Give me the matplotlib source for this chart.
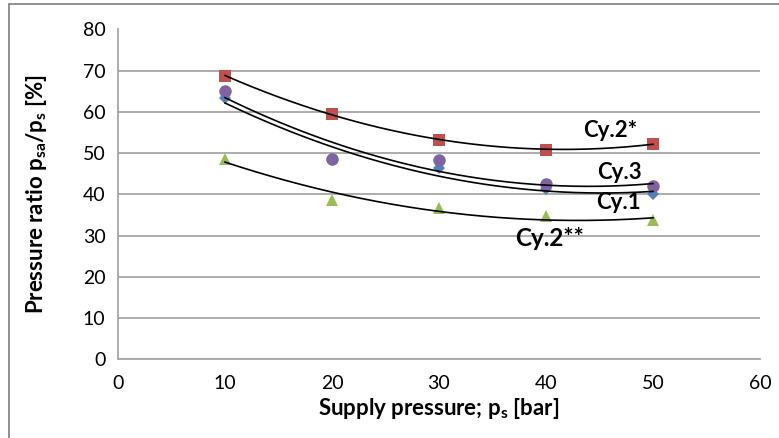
import numpy as np
import matplotlib
matplotlib.use("Agg")
import matplotlib.pyplot as plt
from matplotlib.patches import Rectangle

plt.rcParams['font.family'] = ['Lato', 'DejaVu Sans']
plt.rcParams['mathtext.fontset'] = 'custom'
plt.rcParams['mathtext.rm'] = 'Lato'
plt.rcParams['mathtext.bf'] = 'Lato:bold'

# supply pressure [bar]
pressure = [10, 20, 30, 40, 50]

# pressure ratio [%] per cylinder
cy1 = [63.4, 48.4, 46.5, 41.2, 40.2]
cy2_star = [68.7, 59.6, 53.3, 50.7, 52.3]
cy2_dstar = [48.7, 38.6, 36.6, 34.8, 33.7]
cy3 = [65.0, 48.7, 48.3, 42.6, 42.0]

series = [
    # name, values, color, marker, size
    ('Cy.1', cy1, '#4F81BD', 'D', 6),
    ('Cy.2*', cy2_star, '#C0504D', 's', 8),
    ('Cy.2**', cy2_dstar, '#9BBB59', '^', 9),
    ('Cy.3', cy3, '#8064A2', 'o', 9),
]

# label positions next to the trend lines (data coords, left / vertical centre)
labels = {
    'Cy.2*': (43.5, 55.4, 16),
    'Cy.3': (44.8, 45.2, 16),
    'Cy.1': (44.7, 38.0, 16),
    'Cy.2**': (37.1, 29.3, 17.5),
}

fig = plt.figure(figsize=(7.79, 4.38), dpi=100)
ax = fig.add_axes([118 / 779, 1 - 359.3 / 438, (760 - 118) / 779, (359.3 - 29.5) / 438])

xs = np.linspace(10, 50, 200)
for name, vals, color, marker, size in series:
    ax.plot(pressure, vals, ls='none', marker=marker, color=color, ms=size,
            markeredgewidth=0, zorder=3)
    # 2nd order polynomial trendline, as in Excel
    coef = np.polyfit(pressure, vals, 2)
    ax.plot(xs, np.polyval(coef, xs), color='black', lw=1.2, zorder=4)
    lx, ly, fs = labels[name]
    ax.text(lx, ly, name, fontsize=fs, fontweight='bold', ha='left', va='center', zorder=5)

ax.set_xlim(0, 60)
ax.set_ylim(0, 80)
ax.set_xticks(range(0, 61, 10))
ax.set_yticks(range(0, 81, 10))
ax.grid(axis='y', color='#A6A6A6', lw=1.3)
ax.set_axisbelow(True)
for s in ['top', 'right']:
    ax.spines[s].set_visible(False)
for s in ['left', 'bottom']:
    ax.spines[s].set_color('#A6A6A6')
    ax.spines[s].set_linewidth(1.3)
ax.tick_params(length=0, labelsize=14, pad=9)
ax.tick_params(axis='x', pad=11)

ax.set_xlabel(r'Supply pressure; p$_\mathbf{s}$ [bar]', fontsize=16, fontweight='bold', labelpad=3)
ax.set_ylabel(r'Pressure ratio p$_\mathbf{sa}$/p$_\mathbf{s}$ [%]', fontsize=16, fontweight='bold', labelpad=24)

# outer chart area border
fig.patches.append(Rectangle((8.5 / 779, -0.1), 1.2, 1 - 4 / 438 + 0.1, transform=fig.transFigure,
                             fill=False, edgecolor='#868686', lw=1.3))

fig.savefig('out.png', dpi=100, facecolor='white')
